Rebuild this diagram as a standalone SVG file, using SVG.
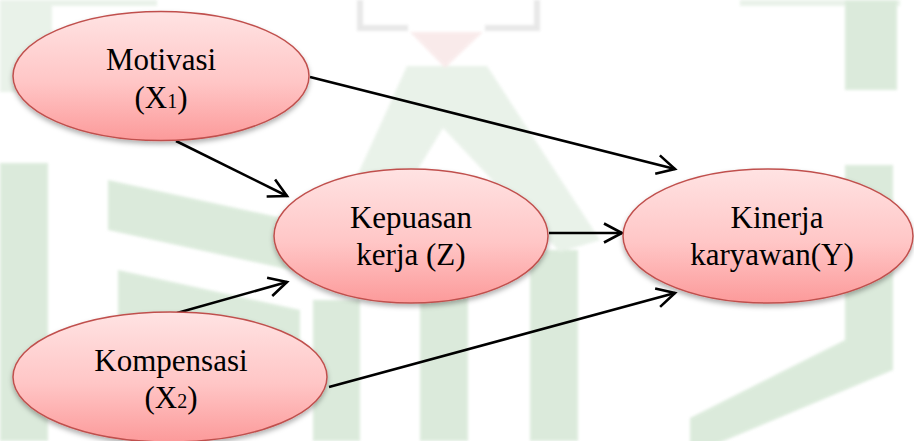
<svg xmlns="http://www.w3.org/2000/svg" width="914" height="441" viewBox="0 0 914 441">
  <style>
    .wm { fill: #d3e6d3; }
    .wm-light { fill: #e4efe4; }
    .wm-box { fill: none; stroke: #e2e2e2; stroke-width: 6; }
    .node { fill: url(#nodeFill); stroke: #c0504d; stroke-width: 1.5; filter: url(#shadow); }
    text.label { font-family: "Liberation Serif", "Times New Roman", Times, serif; font-size: 31px; fill: #000; text-anchor: middle; }
    tspan.sub { font-size: 20px; }
    .edge { stroke: #000; stroke-width: 2.6; fill: none; marker-end: url(#arrow); }
  </style>
  <defs>
    <linearGradient id="nodeFill" x1="0" y1="0" x2="0" y2="1">
      <stop offset="0" stop-color="#ffe3e3"/>
      <stop offset="0.55" stop-color="#ffc6c6"/>
      <stop offset="1" stop-color="#fc9a9a"/>
    </linearGradient>
    <filter id="shadow" x="-10%" y="-10%" width="120%" height="130%">
      <feDropShadow dx="0" dy="3" stdDeviation="2.5" flood-color="#000" flood-opacity="0.3"/>
    </filter>
    <filter id="soft" x="-5%" y="-5%" width="110%" height="110%">
      <feGaussianBlur stdDeviation="1.5"/>
    </filter>
    <marker id="arrow" viewBox="0 0 22 22" markerWidth="22" markerHeight="22" refX="19" refY="11" orient="auto" markerUnits="userSpaceOnUse" overflow="visible">
      <path d="M1,1.5 L19,11 L1,20.5" fill="none" stroke="#000" stroke-width="2.6"/>
    </marker>
  </defs>

  <rect width="914" height="441" fill="#ffffff"/>

  <!-- faint background emblem -->
  <g id="emblem" filter="url(#soft)" opacity="0.8">
    <rect class="wm-light" x="0" y="0" width="52" height="92"/>
    <rect class="wm-light" x="52" y="0" width="105" height="6"/>
    <rect class="wm" x="0" y="163" width="48" height="278"/>
    <polygon class="wm" points="108,180 300,222 300,272 108,230"/>
    <polygon class="wm" points="118,270 300,310 300,360 118,318"/>
    <rect class="wm" x="313" y="300" width="47" height="141"/>
    <rect class="wm" x="420" y="290" width="48" height="151"/>
    <rect class="wm" x="530" y="250" width="48" height="191"/>
    <polygon class="wm-light" points="407,66 487,66 600,240 560,252 443,128 392,212 348,196"/>
    <polygon fill="#f8e6e6" points="410,32 483,32 445,68"/>
    <path class="wm-box" d="M360,0 V28 H408 M485,28 H537 V0"/>
    <rect class="wm-light" x="740" y="0" width="160" height="6"/>
    <rect class="wm" x="845" y="0" width="52" height="90"/>
    <polygon class="wm" points="845,165 893,165 893,370 690,455 690,418 845,340"/>
  </g>

  <!-- connectors -->
  <g id="connectors">
    <line class="edge" x1="310" y1="77" x2="675" y2="169"/>
    <line class="edge" x1="176" y1="141" x2="287" y2="196"/>
    <line class="edge" x1="177" y1="313" x2="287" y2="282"/>
    <line class="edge" x1="329" y1="387" x2="675" y2="293"/>
    <line class="edge" x1="549" y1="233" x2="622" y2="233"/>
  </g>

  <g id="motivasi">
    <ellipse class="node" cx="161" cy="76" rx="148" ry="64.5"/>
    <text class="label" x="161" y="70">Motivasi</text>
    <text class="label" x="161" y="108">(X<tspan class="sub">1</tspan>)</text>
  </g>

  <g id="kepuasan">
    <ellipse class="node" cx="411" cy="236" rx="137" ry="67"/>
    <text class="label" x="411" y="228">Kepuasan</text>
    <text class="label" x="411" y="265">kerja (Z)</text>
  </g>

  <g id="kinerja">
    <ellipse class="node" cx="768" cy="236" rx="145" ry="67"/>
    <text class="label" x="777" y="228">Kinerja</text>
    <text class="label" x="772" y="265">karyawan(Y)</text>
  </g>

  <g id="kompensasi">
    <ellipse class="node" cx="170" cy="377" rx="157" ry="65"/>
    <text class="label" x="171" y="371">Kompensasi</text>
    <text class="label" x="171" y="408">(X<tspan class="sub">2</tspan>)</text>
  </g>
</svg>
